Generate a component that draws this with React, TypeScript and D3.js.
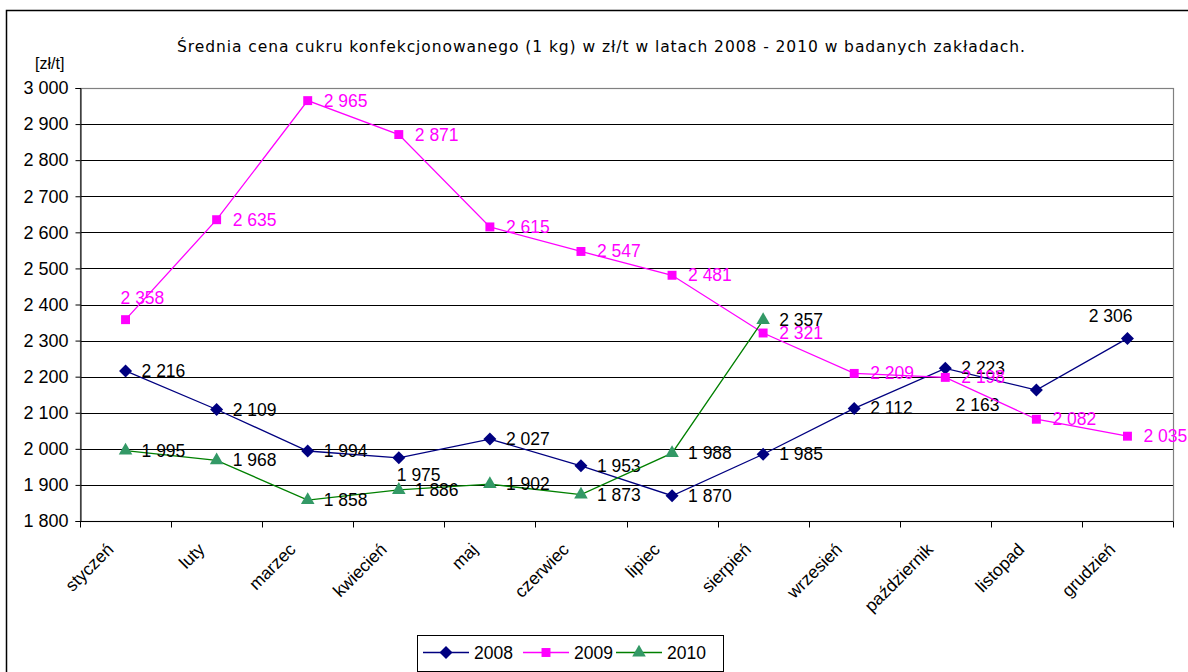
import React, { useEffect, useRef } from "react";
import * as d3 from "d3";

const months = ["styczeń", "luty", "marzec", "kwiecień", "maj", "czerwiec", "lipiec", "sierpień", "wrzesień", "październik", "listopad", "grudzień"];
const s2008 = [2216, 2109, 1994, 1975, 2027, 1953, 1870, 1985, 2112, 2223, 2163, 2306];
const s2009 = [2358, 2635, 2965, 2871, 2615, 2547, 2481, 2321, 2209, 2198, 2082, 2035];
const s2010 = [1995, 1968, 1858, 1886, 1902, 1873, 1988, 2357];
const yTicks = [1800, 1900, 2000, 2100, 2200, 2300, 2400, 2500, 2600, 2700, 2800, 2900, 3000];
const seriesNames = ["2008", "2009", "2010"];

// where a data label sits next to its point (default: right)
const labelPos: Record<string, string> = {
  "0-3": "below",
  "0-10": "belowLeft",
  "0-11": "aboveLeft",
  "1-0": "aboveRight",
};

const W = 1188;
const H = 672;
const m = { left: 80, top: 88, right: 1173, bottom: 521 };

export default function App() {
  const ref = useRef<SVGSVGElement>(null);

  useEffect(() => {
    const svg = d3.select(ref.current);
    svg.selectAll("*").remove();

    const x = d3.scaleBand<string>().domain(months).range([m.left, m.right]);
    const y = d3.scaleLinear().domain([1800, 3000]).range([m.bottom, m.top]);
    const cx = (i: number) => (x(months[i]) as number) + x.bandwidth() / 2;
    const fmt = (d: number) => d3.format(",")(d).replace(",", " ");

    // outer frame
    svg.append("rect")
      .attr("x", 6.5).attr("y", 10.5).attr("width", 1200).attr("height", 700)
      .attr("fill", "white").attr("stroke", "#000").attr("stroke-width", 1.5);

    // title
    svg.append("text")
      .attr("x", 177).attr("y", 52)
      .attr("textLength", 848).attr("lengthAdjust", "spacing")
      .attr("font-family", "DejaVu Sans").attr("font-size", 15.5)
      .text("Średnia cena cukru konfekcjonowanego (1 kg) w zł/t w latach 2008 - 2010  w badanych zakładach.");

    svg.append("text")
      .attr("x", 35).attr("y", 69)
      .attr("font-family", "Liberation Sans").attr("font-size", 16)
      .text("[zł/t]");

    // grid
    svg.append("g")
      .selectAll("line")
      .data(yTicks.slice(1, -1))
      .join("line")
      .attr("x1", m.left).attr("x2", m.right)
      .attr("y1", d => Math.round(y(d)) + 0.5).attr("y2", d => Math.round(y(d)) + 0.5)
      .attr("stroke", "#000");

    // plot area border
    svg.append("rect")
      .attr("x", m.left + 0.5).attr("y", m.top + 0.5)
      .attr("width", m.right - m.left).attr("height", m.bottom - m.top)
      .attr("fill", "none").attr("stroke", "#808080").attr("stroke-width", 1.2);

    // y axis
    const yAxis = svg.append("g")
      .attr("transform", `translate(${m.left + 0.5},0)`)
      .call(d3.axisLeft(y).tickValues(yTicks).tickSize(5).tickPadding(7)
        .tickFormat(d => fmt(d as number)));
    yAxis.select(".domain").attr("stroke", "#000");
    yAxis.selectAll("line").attr("stroke", "#000");
    yAxis.selectAll("text").attr("font-family", "Liberation Sans").attr("font-size", 18).attr("fill", "#000");

    // x axis
    const xAxis = svg.append("g")
      .attr("transform", `translate(0,${m.bottom + 0.5})`);
    xAxis.append("line")
      .attr("x1", m.left).attr("x2", m.right).attr("stroke", "#000");
    xAxis.selectAll("line.tick")
      .data(d3.range(months.length + 1))
      .join("line")
      .attr("class", "tick")
      .attr("x1", i => Math.round(m.left + i * x.step()) + 0.5)
      .attr("x2", i => Math.round(m.left + i * x.step()) + 0.5)
      .attr("y1", 0).attr("y2", 6)
      .attr("stroke", "#000");
    xAxis.selectAll("text")
      .data(months)
      .join("text")
      .attr("transform", (d, i) => `translate(${cx(i) - 11},${29}) rotate(-45)`)
      .attr("text-anchor", "end")
      .attr("font-family", "Liberation Sans").attr("font-size", 17.5)
      .text(d => d);

    const diamond = "M0,-6.5L6.5,0L0,6.5L-6.5,0Z";
    const series = [
      { name: seriesNames[0], data: s2008, line: "#000080", fill: "#000080", path: diamond, label: "#000" },
      { name: seriesNames[1], data: s2009, line: "#FF00FF", fill: "#FF00FF", path: d3.symbol(d3.symbolSquare, 80)(), label: "#FF00FF" },
      { name: seriesNames[2], data: s2010, line: "#008000", fill: "#339966", path: d3.symbol(d3.symbolTriangle, 80)(), label: "#000" },
    ];

    const line = d3.line<number>().x((d, i) => cx(i)).y(d => y(d));

    series.forEach((s, si) => {
      const g = svg.append("g");
      g.append("path").datum(s.data).attr("d", line)
        .attr("fill", "none").attr("stroke", s.line).attr("stroke-width", 1.3);
      g.selectAll("path.pt").data(s.data).join("path")
        .attr("class", "pt")
        .attr("transform", (d, i) => `translate(${cx(i)},${y(d)})`)
        .attr("d", s.path as string)
        .attr("fill", s.fill);
      g.selectAll("text").data(s.data).join("text")
        .attr("font-family", "Liberation Sans").attr("font-size", 17.5)
        .attr("fill", s.label)
        .each(function (d, i) {
          const pos = labelPos[`${si}-${i}`] || "right";
          const t = d3.select(this);
          const px = cx(i), py = y(d);
          if (pos === "aboveLeft") {
            t.attr("x", px + 5).attr("y", py - 16).attr("text-anchor", "end");
          } else if (pos === "aboveRight") {
            t.attr("x", px - 5).attr("y", py - 16).attr("text-anchor", "start");
          } else if (pos === "below") {
            t.attr("x", px - 2).attr("y", py + 23).attr("text-anchor", "start");
          } else if (pos === "belowLeft") {
            t.attr("x", px - 37).attr("y", py + 21).attr("text-anchor", "end");
          } else {
            t.attr("x", px + 16).attr("y", py + 6).attr("text-anchor", "start");
          }
        })
        .text(d => fmt(d));
    });

    // legend
    const lg = svg.append("g");
    lg.append("rect")
      .attr("x", 417.5).attr("y", 635.5).attr("width", 306).attr("height", 36)
      .attr("fill", "white").attr("stroke", "#000");
    const lx = [423, 523, 616];
    series.forEach((s, i) => {
      lg.append("line")
        .attr("x1", lx[i]).attr("x2", lx[i] + 46)
        .attr("y1", 652.5).attr("y2", 652.5)
        .attr("stroke", s.line).attr("stroke-width", 1.3);
      lg.append("path")
        .attr("transform", `translate(${lx[i] + 23},652.5)`)
        .attr("d", s.path as string)
        .attr("fill", s.fill);
      lg.append("text")
        .attr("x", lx[i] + 51).attr("y", 659)
        .attr("font-family", "Liberation Sans").attr("font-size", 17.5)
        .text(s.name);
    });
  }, []);

  return (
    <svg ref={ref} width={W} height={H}
      style={{ position: "absolute", left: 0, top: 0, display: "block", background: "white" }} />
  );
}
